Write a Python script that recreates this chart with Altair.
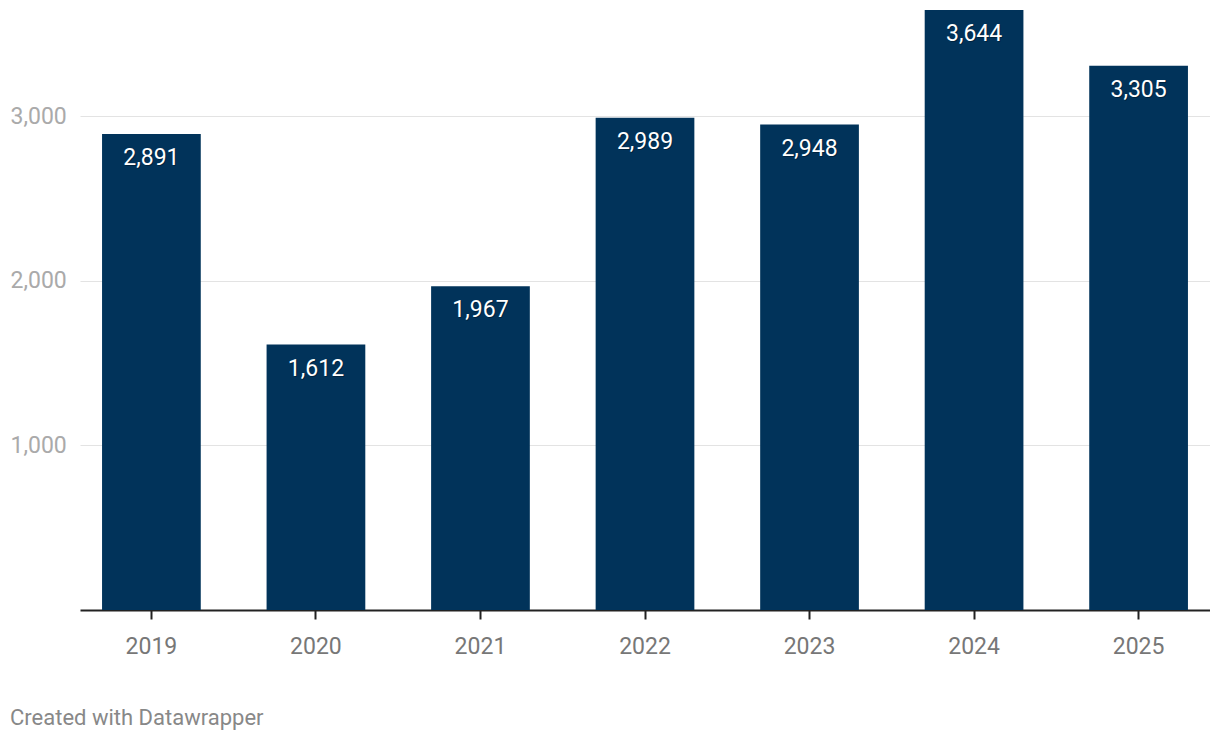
import altair as alt
import pandas as pd

years = ["2019", "2020", "2021", "2022", "2023", "2024", "2025"]
values = [2891, 1612, 1967, 2989, 2948, 3644, 3305]

df = pd.DataFrame({"year": years, "value": values})

FONT = "Roboto"

base = alt.Chart(df).encode(
    x=alt.X(
        "year:N",
        sort=years,
        title=None,
        scale=alt.Scale(paddingInner=0.4, paddingOuter=0.134),
        axis=alt.Axis(
            labelAngle=0,
            labelFontSize=23,
            labelColor="#777777",
            labelFont=FONT,
            labelPadding=16,
            domainColor="#222222",
            domainWidth=2,
            tickColor="#222222",
            tickWidth=2,
            tickSize=9,
            grid=False,
        ),
    ),
    y=alt.Y(
        "value:Q",
        title=None,
        scale=alt.Scale(domain=[0, 3644], nice=False, zero=True),
        axis=alt.Axis(
            values=[1000, 2000, 3000],
            format=",.0f",
            labelAlign="left",
            labelPadding=70,
            labelFontSize=23,
            labelColor="#aaaaaa",
            labelFont=FONT,
            labelBaseline="middle",
            ticks=False,
            domain=False,
            grid=True,
            gridColor="#e3e3e3",
            gridWidth=1,
        ),
    ),
)

bars = base.mark_bar(color="#01335a")

shadow = base.mark_text(
    color="#000000",
    opacity=0.3,
    font=FONT,
    fontSize=23,
    baseline="middle",
    dx=1,
    dy=25,
).encode(text=alt.Text("value:Q", format=",.0f"))

labels = base.mark_text(
    color="white",
    font=FONT,
    fontSize=23,
    baseline="middle",
    dy=24,
).encode(text=alt.Text("value:Q", format=",.0f"))

footer = alt.Chart(pd.DataFrame({"t": ["Created with Datawrapper"]})).mark_text(
    align="left",
    baseline="middle",
    font=FONT,
    fontSize=22,
    color="#888888",
).encode(text="t:N", x=alt.value(-70), y=alt.value(708))

chart = (
    alt.layer(bars, shadow, labels, footer)
    .properties(
        width=1130,
        height=600,
        background="white",
        autosize=alt.AutoSizeParams(type="none"),
        padding={"left": 72, "top": 2, "right": 0, "bottom": 124},
    )
    .configure_view(stroke="transparent", strokeWidth=0)
)

chart.save("out.html", embed_options={"renderer": "svg", "actions": False})
